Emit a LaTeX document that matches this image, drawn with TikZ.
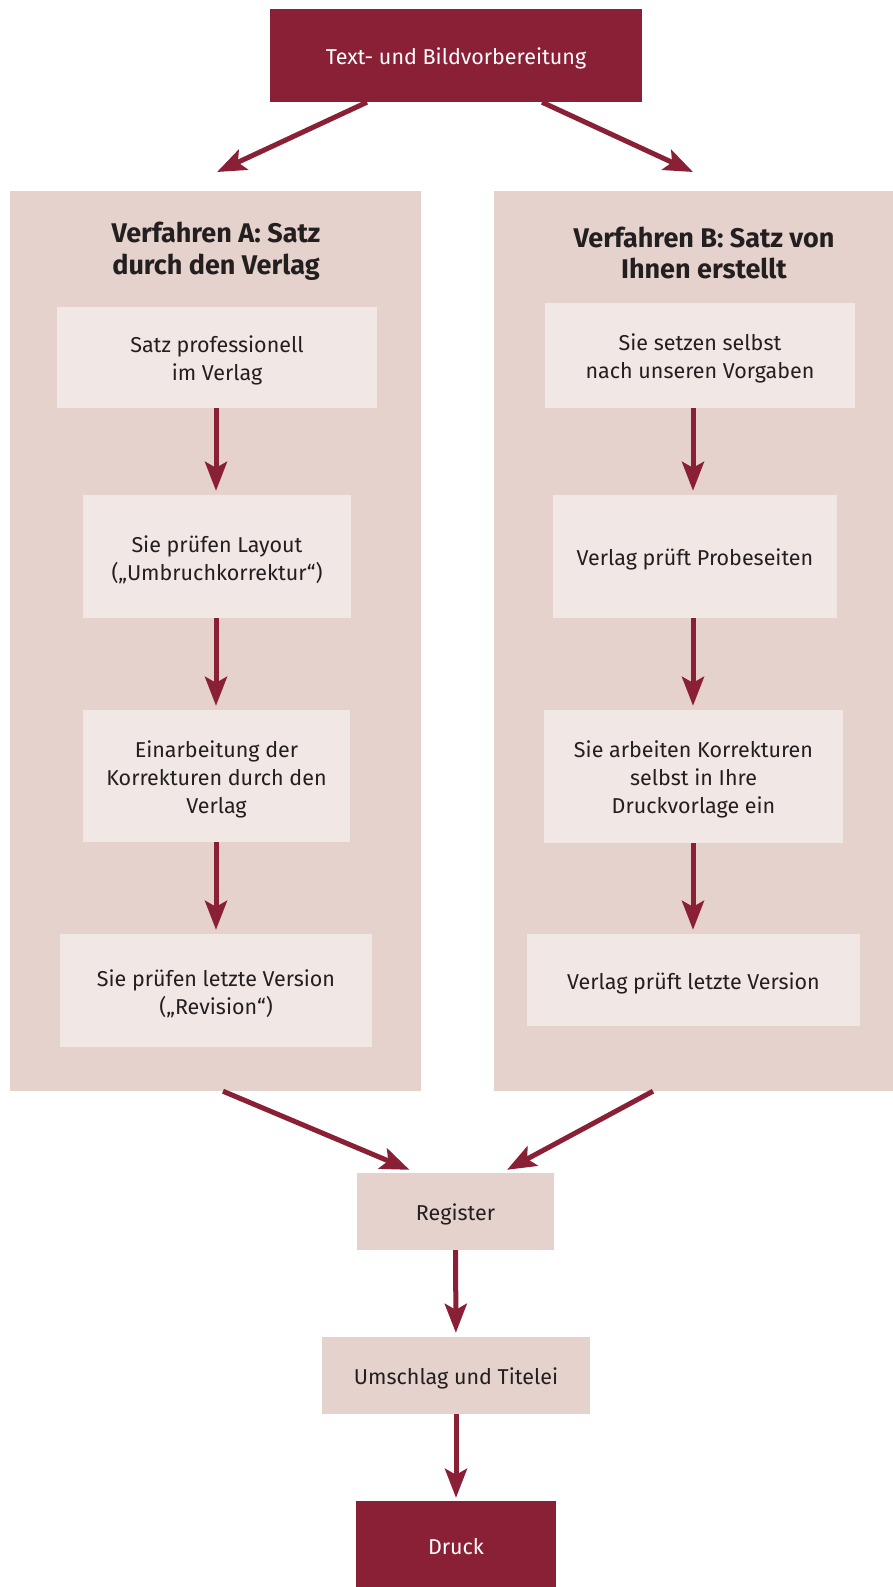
\documentclass[tikz,border=0pt]{standalone}
\usepackage{fontspec}
\setmainfont{Fira Sans}
\usepackage{xcolor}
\usetikzlibrary{arrows.meta,positioning}

\definecolor{weinrot}{HTML}{8A2036}
\definecolor{feldrosa}{HTML}{E5D2CD}
\definecolor{kastenrosa}{HTML}{F1E7E5}
\definecolor{schrift}{HTML}{231F20}

\tikzset{
    beschriftung/.style={text=schrift, align=center, inner sep=0pt, yshift=-3pt,
        font=\fontsize{21.5}{28}\selectfont},
    dunkel/.style={fill=weinrot, inner sep=0pt,
        label={[beschriftung, text=white]center:{#1}}},
    feld/.style={fill=feldrosa, inner sep=0pt},
    titel/.style={text=schrift, align=center, inner sep=0pt,
        font=\fontsize{27}{31.5}\selectfont\bfseries},
    kasten/.style={fill=kastenrosa, inner sep=0pt,
        label={[beschriftung]center:{#1}}},
    hell/.style={fill=feldrosa, inner sep=0pt,
        label={[beschriftung]center:{#1}}},
    pfeil/.style={draw=weinrot, line width=5pt,
        -{Stealth[length=29pt, width=22pt, inset=6pt]}}
}

\begin{document}
\begin{tikzpicture}[x=1pt, y=-1pt]
        \useasboundingbox (0,0) rectangle (893,1587);
        \def\spa{216} % x of the arrows in column A
        \def\spb{693} % x of the arrows in column B

        % the two columns
        \node[feld, minimum width=411pt, minimum height=900pt] (feldA) at (215.5,641) {};
        \node[feld, minimum width=399pt, minimum height=900pt] (feldB) at (693.5,641) {};

        \node[dunkel={Text- und Bildvorbereitung}, minimum width=372pt, minimum height=93pt] (start) at (456,55.5) {};

        \node[titel] (titelA) at (216,251) {Verfahren A: Satz\\durch den Verlag};
        \node[titel] (titelB) at (704,253) {Verfahren B: Satz von\\Ihnen erstellt};

        % column A
        \node[kasten={Satz professionell\\im Verlag}, minimum width=320pt, minimum height=101pt] (a1) at (217,357.5) {};
        \node[kasten={Sie prüfen Layout\\(„Umbruchkorrektur“)}, minimum width=268pt, minimum height=123pt] (a2) at (217,556.5) {};
        \node[kasten={Einarbeitung der\\Korrekturen durch den\\Verlag}, minimum width=267pt, minimum height=132pt] (a3) at (216.5,776) {};
        \node[kasten={Sie prüfen letzte Version\\(„Revision“)}, minimum width=312pt, minimum height=113pt] (a4) at (216,990.5) {};

        % column B
        \node[kasten={Sie setzen selbst\\nach unseren Vorgaben}, minimum width=310pt, minimum height=105pt] (b1) at (700,355.5) {};
        \node[kasten={Verlag prüft Probeseiten}, minimum width=284pt, minimum height=123pt] (b2) at (695,556.5) {};
        \node[kasten={Sie arbeiten Korrekturen\\selbst in Ihre\\Druckvorlage ein}, minimum width=299pt, minimum height=133pt] (b3) at (693.5,776.5) {};
        \node[kasten={Verlag prüft letzte Version}, minimum width=333pt, minimum height=92pt] (b4) at (693.5,980) {};

        \node[hell={Register}, minimum width=197pt, minimum height=77pt] (register) at (455.5,1211.5) {};
        \node[hell={Umschlag und Titelei}, minimum width=268pt, minimum height=77pt] (umschlag) at (456,1375.5) {};
        \node[dunkel={Druck}, minimum width=200pt, minimum height=86pt] (druck) at (456,1544) {};

        \coordinate (spurA) at (\spa,0);
        \coordinate (spurB) at (\spb,0);
        \coordinate (spitzeA) at (217,172);
        \coordinate (spitzeB) at (693,172);

        \draw[pfeil] ([xshift=-89pt]start.south) -- (spitzeA);
        \draw[pfeil] ([xshift=86pt]start.south) -- (spitzeB);

        \foreach \s/\z in {a1/a2,a2/a3,a3/a4}
            \draw[pfeil, shorten >=4pt] (\s.south -| spurA) -- (\z.north -| spurA);
        \foreach \s/\z in {b1/b2,b2/b3,b3/b4}
            \draw[pfeil, shorten >=4pt] (\s.south -| spurB) -- (\z.north -| spurB);

        \draw[pfeil] ([xshift=7.5pt]feldA.south) -- ([xshift=-46pt, yshift=3pt]register.north);
        \draw[pfeil] ([xshift=-40.5pt]feldB.south) -- ([xshift=51.5pt, yshift=3pt]register.north);
        \draw[pfeil, shorten >=4pt] (register) -- (umschlag);
        \draw[pfeil, shorten >=3pt] (umschlag) -- (druck);
    \end{tikzpicture}
\end{document}
